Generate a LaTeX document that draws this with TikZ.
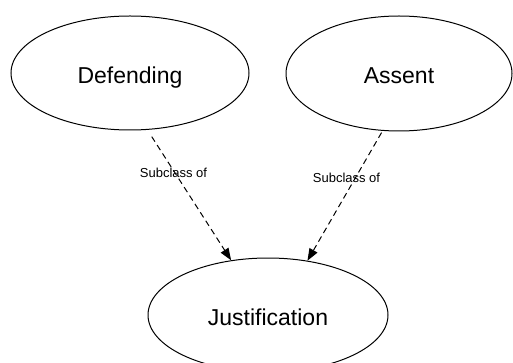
\documentclass[tikz,border=0pt]{standalone}
\usepackage{fontspec}
\setmainfont{Liberation Sans}
\usetikzlibrary{shapes.geometric,arrows.meta}
\tikzset{
  concept/.style={ellipse, draw, line width=1pt, inner sep=0pt,
    text height=20.5pt, text depth=0pt, font=\fontsize{23}{27}\selectfont},
  subclass/.style={dashed, dash pattern=on 6pt off 4pt, line width=1pt,
    -{Triangle[length=12pt,width=9pt]}},
  edgelabel/.style={inner sep=0pt, font=\fontsize{13}{15}\selectfont}
}
\begin{document}
\begin{tikzpicture}[x=1pt,y=-1pt]
  \useasboundingbox (0,0) rectangle (513,363);
  % class nodes
  \node[concept, minimum width=238pt, minimum height=114pt] (def) at (130,73) {Defending};
  \node[concept, minimum width=226pt, minimum height=115pt] (ass) at (399,73.5) {Assent};
  \node[concept, minimum width=240pt, minimum height=114pt] (jus) at (268,315) {Justification};
  % subclass relations
  \draw[subclass, shorten <=8pt] (def.-73) -- (jus.124);
  \draw[subclass, shorten <=2pt] (ass.-106) -- (jus.54);
  \node[edgelabel] (l1) at (173.5,173) {Subclass of};
  \node[edgelabel] (l2) at (346.5,178) {Subclass of};
\end{tikzpicture}
\end{document}
